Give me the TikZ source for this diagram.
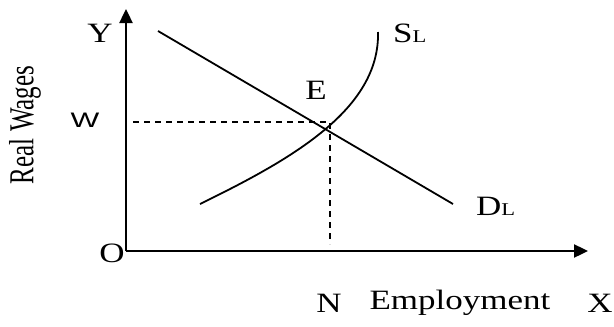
\documentclass[tikz,border=0pt]{standalone}
\usepackage{fontspec}
\setmainfont{Liberation Serif}[FakeStretch=1.25]
\newfontfamily\plainserif{Liberation Serif}
\newfontfamily\wsans{Liberation Sans}
\usetikzlibrary{arrows.meta}
\tikzset{
  axis/.style={line width=2.4pt, -{Triangle[length=14pt,width=13pt]}},
  curve/.style={line width=1.8pt},
  guide/.style={line width=1.5pt, dash pattern=on 6pt off 5pt},
  lbl/.style={font=\fontsize{28}{28}\selectfont, inner sep=0pt},
  sub/.style={font=\fontsize{28}{28}\selectfont, inner sep=0pt}
}
\newcommand{\subL}{{\fontsize{18}{18}\selectfont L}}
\begin{document}
\begin{tikzpicture}[x=1pt,y=-1pt]
\useasboundingbox (0,0) rectangle (614,327);
\coordinate (O) at (126,251);
\coordinate (Ytip) at (126,9);
\coordinate (Xtip) at (588,251);
\coordinate (D1) at (158,31);
\coordinate (D2) at (453,204);
\coordinate (S1) at (200,204);
\coordinate (S2) at (378,32);
\coordinate (Wpt) at (126,122);
\coordinate (Cpt) at (330,122);
\coordinate (Npt) at (330,244);
\draw[axis] (O) -- (Ytip);
\draw[axis] (O) -- (Xtip);
\draw[curve] (D1) -- (D2);
\draw[curve] (S1) .. controls (290,160) and (380,110) .. (S2);
\draw[guide] (Wpt) ++(7,0) -- (Cpt) -- (Npt);
\node[lbl] (ylab) at (100,33) {Y};
\node[inner sep=0pt, font=\wsans\fontsize{21}{21}\selectfont] (wlab) at (85,120) {\scalebox{1.45}[1]{W}};
\node[lbl] (olab) at (112,253) {O};
\node[lbl] (elab) at (316,90) {E};
\node[sub, anchor=west] (slab) at (393,33) {S\subL};
\node[sub, anchor=west] (dlab) at (476,206) {D\subL};
\node[lbl] (nlab) at (329,303) {N};
\node[lbl] (emp) at (460,303) {Employment};
\node[lbl] (xlab) at (600,303) {X};
\node[inner sep=0pt, rotate=90, font=\plainserif\fontsize{25}{25}\selectfont] (rw) at (25,125) {\scalebox{1}[1.4]{Real Wages}};
\end{tikzpicture}
\end{document}
